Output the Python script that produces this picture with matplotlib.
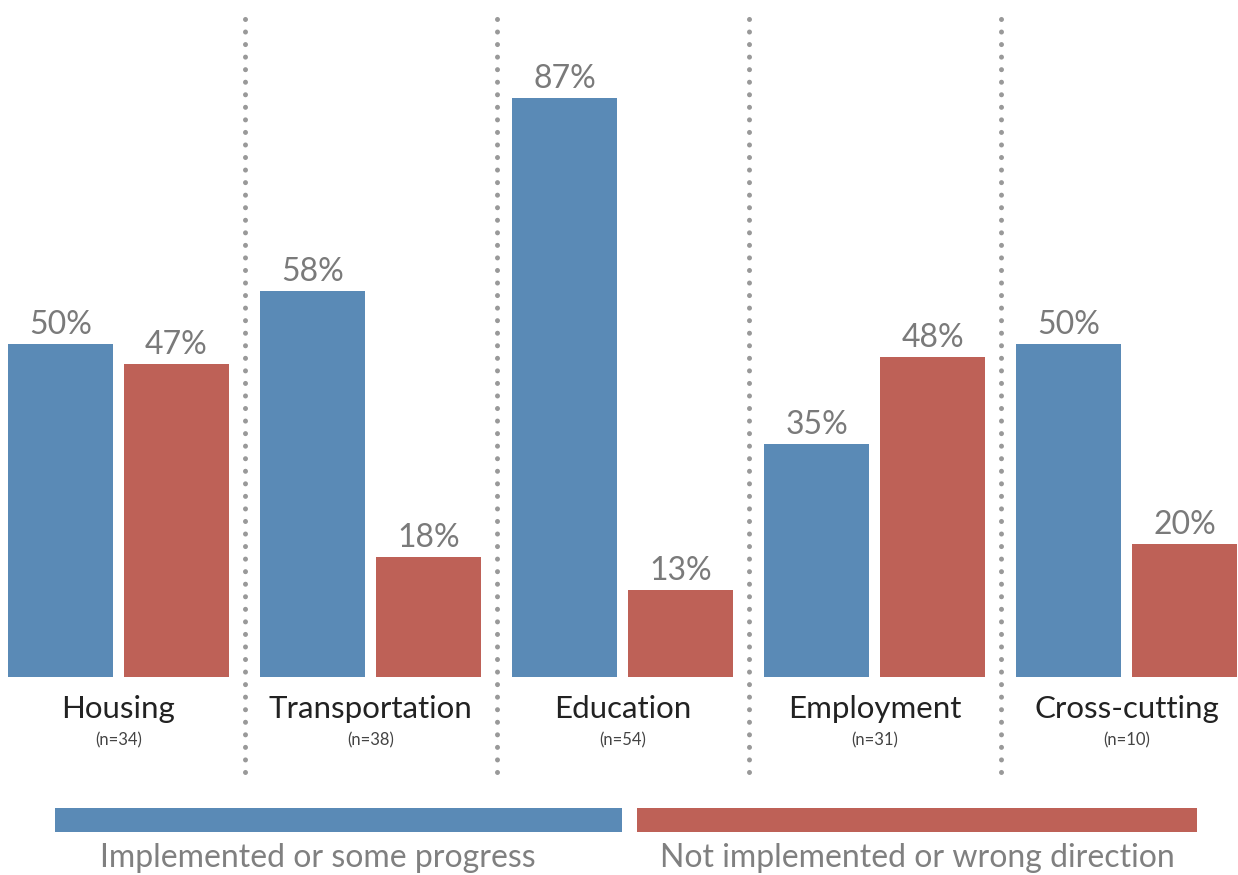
import matplotlib.pyplot as plt
from matplotlib.patches import Rectangle
import numpy as np

categories = ['Housing', 'Transportation', 'Education', 'Employment', 'Cross-cutting']
counts = ['(n=34)', '(n=38)', '(n=54)', '(n=31)', '(n=10)']
implemented = [50, 58, 87, 35, 50]
not_implemented = [47, 18, 13, 48, 20]
series_names = ['Implemented or some progress', 'Not implemented or wrong direction']

blue = '#5A8AB6'
red = '#BE6157'
grey_txt = '#7a7a7a'
plt.rcParams['font.family'] = ['Lato', 'DejaVu Sans']

W, H = 1238, 875
fig = plt.figure(figsize=(W / 100, H / 100), dpi=100)

# main bar axes: baseline at 677px, 100% at 11px
ax = fig.add_axes([0, (H - 677) / H, 1, 666 / H])
x = np.arange(len(categories))
step = 252
bw = 105 / step
off = 58 / step

b1 = ax.bar(x - off, implemented, bw, color=blue)
b2 = ax.bar(x + off, not_implemented, bw, color=red)
for bars in (b1, b2):
    for r in bars:
        ax.text(r.get_x() + r.get_width() / 2, r.get_height() + 0.6, f'{r.get_height():.0f}%',
                ha='center', va='bottom', fontsize=23, color=grey_txt)

# category labels under the bars
for i, (c, n) in enumerate(zip(categories, counts)):
    ax.text(i, -4.8, c, ha='center', va='center', fontsize=22.5, color='#222222', clip_on=False)
    ax.text(i, -9.5, n, ha='center', va='center', fontsize=12, color='#444444', clip_on=False)

# dotted separators between groups
for i in range(len(categories) - 1):
    ax.plot([i + 0.5, i + 0.5], [-14.3, 99.8], color='#999999', lw=3.6,
            linestyle=(0, (0.01, 2.5)), dash_capstyle='round', clip_on=False)

ax.set_xlim(-118.5 / step, (W - 118.5) / step)
ax.set_ylim(0, 100)
ax.axis('off')

# legend strip at the bottom
lg = fig.add_axes([0, 0, 1, 1], zorder=-1)
lg.set_xlim(0, W)
lg.set_ylim(H, 0)
lg.axis('off')
lg.add_patch(Rectangle((55, 808), 567, 24, color=blue, lw=0))
lg.add_patch(Rectangle((637, 808), 560, 24, color=red, lw=0))
lg.text(318, 858, series_names[0], ha='center', va='center', fontsize=23, color='#808080')
lg.text(917, 858, series_names[1], ha='center', va='center', fontsize=23, color='#808080')

fig.savefig('out.png', dpi=100)
